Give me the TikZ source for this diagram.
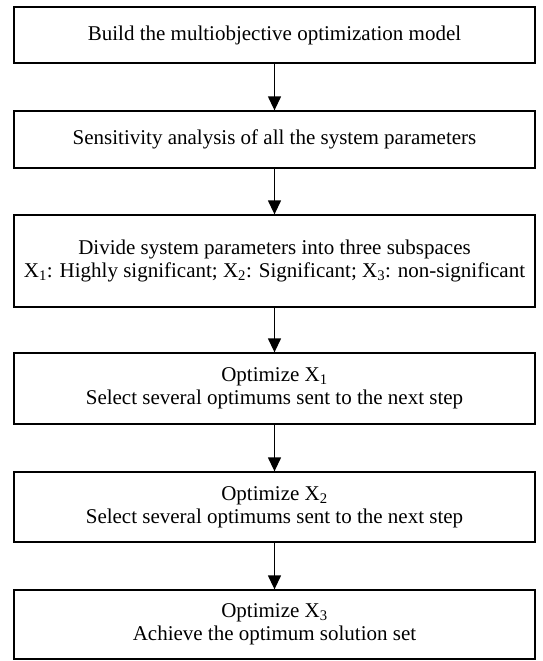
\documentclass[tikz,border=0pt]{standalone}
\usepackage{fontspec}
\setmainfont{Liberation Serif}
\usepackage{tikz}
\usetikzlibrary{arrows.meta}
\newcommand{\boxWidth}{521pt}
\newcommand{\boxCenterX}{274.5pt}
\newcommand{\stepFont}{\fontsize{21}{23}\selectfont}

\begin{document}
\begin{tikzpicture}[x=1pt, y=1pt,
    stepbox/.style={draw, line width=1.3pt, minimum width=\boxWidth, align=center, inner sep=0pt, font=\stepFont},
    flow/.style={line width=1.3pt, -{Triangle[length=14pt, width=13pt]}}]
      \useasboundingbox (0,0) rectangle (543,-661);
      \node[stepbox, minimum height=56pt] (model) at (\boxCenterX,-35) {Build the multiobjective optimization model};
      \node[stepbox, minimum height=57pt] (sens) at (\boxCenterX,-139.5) {Sensitivity analysis of all the system parameters};
      \node[stepbox, minimum height=92pt] (divide) at (\boxCenterX,-261) {Divide system parameters into three subspaces\\X\textsubscript{1}: Highly significant; X\textsubscript{2}: Significant; X\textsubscript{3}: non-significant};
      \node[stepbox, minimum height=71pt] (optA) at (\boxCenterX,-388.5) {Optimize X\textsubscript{1}\\Select several optimums sent to the next step};
      \node[stepbox, minimum height=70pt] (optB) at (\boxCenterX,-507) {Optimize X\textsubscript{2}\\Select several optimums sent to the next step};
      \node[stepbox, minimum height=69pt] (optC) at (\boxCenterX,-624.5) {Optimize X\textsubscript{3}\\Achieve the optimum solution set};
%arrows between the steps
\draw[flow] (model) -- (sens);
\draw[flow] (sens) -- (divide);
\draw[flow] (divide) -- (optA);
\draw[flow] (optA) -- (optB);
\draw[flow] (optB) -- (optC);
      \end{tikzpicture}
\end{document}
